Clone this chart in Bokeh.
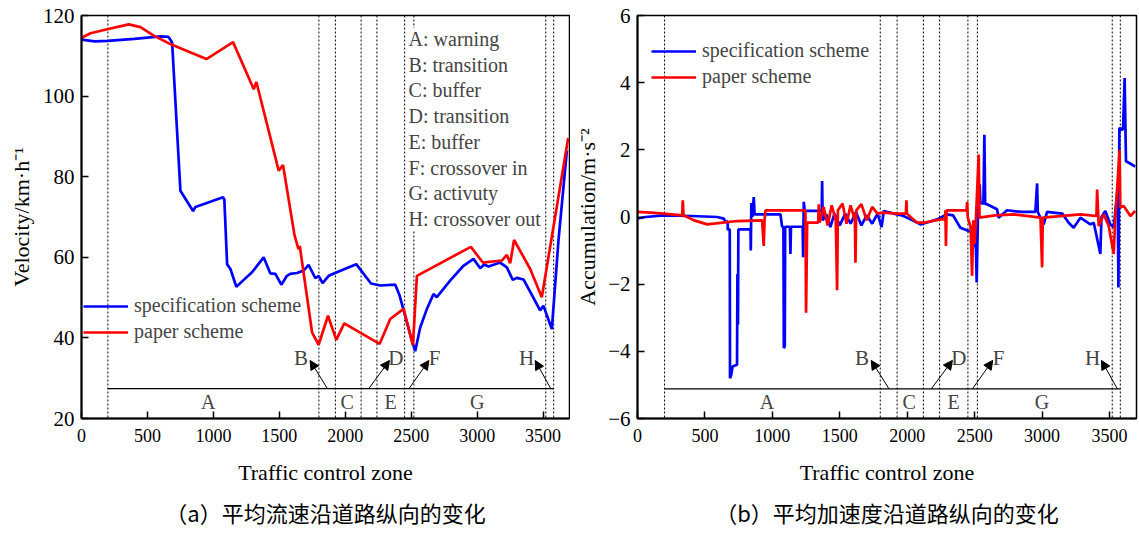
from bokeh.plotting import figure
from bokeh.models import (Span, Label, Arrow, NormalHead, Legend, LegendItem, Title,
                          Range1d, FixedTicker)
from bokeh.layouts import row
from bokeh.embed import file_html
from bokeh.resources import INLINE

SERIF = "Liberation Serif"
CJK = "Noto Sans CJK SC"
BLUE = "#0000ff"
RED = "#ff0000"

# ---------------- data ----------------
x_ticks = [0, 500, 1000, 1500, 2000, 2500, 3000, 3500]
v_ticks = [20, 40, 60, 80, 100, 120]
a_ticks = [-6, -4, -2, 0, 2, 4, 6]

zone_bounds = [200, 1800, 1925, 2120, 2240, 2450, 2520, 3520, 3580]
zone_letters = ["A", "C", "E", "G"]
zone_letter_x = [960, 2015, 2343, 3000]
arrow_letters = ["B", "D", "F", "H"]
arrow_letter_x = [1664, 2383, 2678, 3375]
arrow_tail_x = [1865, 2178, 2483, 3558]
arrow_head_x = [1733, 2335, 2634, 3440]
legend_text = "\n".join(["A: warning", "B: transition", "C: buffer", "D: transition",
                         "E: buffer", "F: crossover in", "G: activuty", "H: crossover out"])

# (a) velocity, km/h
spec_v_x = [0, 100, 200, 400, 600, 660, 687, 750, 846, 864, 1073, 1083, 1104, 1129, 1174,
            1230, 1293, 1381, 1432, 1470, 1515, 1558, 1583, 1634, 1684, 1722, 1773, 1798,
            1828, 1874, 1950, 2083, 2195, 2265, 2379, 2412, 2505, 2530, 2568, 2619, 2669,
            2694, 2795, 2896, 2972, 3023, 3053, 3086, 3174, 3225, 3270, 3301, 3351, 3439,
            3477, 3502, 3566, 3616, 3680]
spec_v_y = [114.0, 113.6, 113.7, 114.2, 114.8, 114.7, 113.3, 76.5, 71.5, 72.5, 74.9, 74.3,
            58.3, 57.1, 52.7, 54.4, 56.3, 60.0, 56.0, 55.9, 53.2, 55.4, 55.9, 56.1, 56.7,
            58.1, 54.8, 55.4, 53.6, 55.4, 56.5, 58.3, 53.5, 53.0, 53.2, 50.5, 39.3, 36.7,
            42.6, 47.2, 50.9, 50.1, 54.2, 57.9, 59.6, 57.3, 58.2, 57.7, 58.7, 57.5, 54.4,
            54.9, 54.5, 49.2, 46.8, 48.0, 42.2, 64.0, 86.5]
paper_v_x = [0, 68, 195, 358, 447, 548, 674, 750, 947, 1149, 1306, 1326, 1495, 1528, 1615,
             1645, 1655, 1748, 1798, 1869, 1932, 1992, 2260, 2341, 2442, 2513, 2543, 2952,
             3043, 3187, 3225, 3250, 3280, 3402, 3490, 3690]
paper_v_y = [114.5, 115.6, 116.6, 117.8, 117.1, 115.0, 112.9, 111.9, 109.2, 113.4, 101.7,
             103.5, 81.5, 82.9, 65.5, 62.0, 62.8, 41.4, 38.3, 45.5, 39.5, 43.6, 38.5, 44.7,
             47.2, 38.2, 55.4, 62.6, 58.7, 59.2, 60.6, 58.5, 64.3, 57.1, 50.1, 89.6]

# (b) acceleration, m/s^2
spec_a_x = [0, 60, 193, 400, 591, 640, 652, 669, 669, 684, 686, 695, 705, 738, 741, 745, 748,
            838, 840, 844, 852, 862, 868, 1060, 1072, 1082, 1085, 1092, 1095, 1130, 1134,
            1138, 1225, 1228, 1233, 1240, 1320, 1366, 1369, 1373, 1400, 1430, 1460, 1500,
            1540, 1580, 1620, 1660, 1700, 1740, 1780, 1810, 1826, 1900, 1960, 2040, 2098,
            2160, 2222, 2296, 2340, 2394, 2456, 2490, 2500, 2506, 2515, 2525, 2537, 2543,
            2565, 2572, 2578, 2592, 2666, 2678, 2740, 2850, 2950, 2963, 2968, 3012, 3037,
            3150, 3197, 3234, 3284, 3358, 3383, 3432, 3440, 3469, 3506, 3531, 3560, 3566,
            3573, 3600, 3612, 3622, 3650, 3690]
spec_a_y = [-0.04, 0.0, 0.05, 0.03, 0.0, -0.05, -0.14, -0.14, -0.37, -0.37, -4.8, -4.7,
            -4.45, -4.4, -1.7, -3.2, -0.37, -0.37, -1.0, 0.42, 0.0, 0.59, 0.08, 0.08, -0.29,
            -0.29, -3.9, -3.85, -0.29, -0.29, -1.1, -0.29, -0.29, -1.2, 0.45, 0.18, 0.18,
            0.18, 1.07, -0.1, 0.08, -0.3, 0.1, -0.25, 0.1, -0.2, 0.15, -0.25, 0.05, -0.2,
            0.1, -0.3, 0.18, 0.1, 0.05, -0.1, -0.22, -0.15, -0.07, 0.08, 0.05, -0.32, -0.42,
            -0.45, -0.9, -0.3, -1.95, 0.2, 0.97, 0.42, 0.4, 2.45, 0.38, 0.38, 0.23, -0.02,
            0.2, 0.15, 0.15, 1.0, 0.15, -0.22, 0.15, 0.1, -0.17, -0.32, -0.02, -0.22, -0.17,
            -1.1, 0.0, 0.18, -0.22, -0.3, 0.82, -2.1, 2.65, 2.6, 4.14, 1.66, 1.6, 1.5]
paper_a_x = [0, 100, 193, 331, 336, 341, 420, 517, 600, 739, 924, 936, 942, 949, 1245, 1250,
             1258, 1340, 1344, 1350, 1380, 1410, 1440, 1470, 1480, 1486, 1520, 1550, 1580,
             1612, 1616, 1622, 1660, 1700, 1740, 1780, 1826, 1925, 1990, 1994, 1998, 2073,
             2122, 2246, 2280, 2283, 2287, 2292, 2440, 2444, 2449, 2470, 2481, 2490, 2500,
             2510, 2530, 2536, 2650, 2790, 2988, 3000, 3005, 3284, 3403, 3408, 3420, 3457,
             3494, 3531, 3543, 3575, 3580, 3605, 3630, 3655, 3690]
paper_a_y = [0.15, 0.13, 0.1, 0.05, 0.5, 0.05, -0.1, -0.22, -0.18, -0.12, -0.1, -0.86, -0.1,
             0.2, 0.2, -2.85, -0.17, -0.17, 0.38, -0.17, 0.3, -0.25, 0.35, -0.1, -2.18, 0.2,
             0.4, -0.2, 0.35, -0.1, -1.36, 0.2, 0.38, -0.1, 0.3, 0.1, 0.13, 0.1, 0.1, 0.5,
             0.1, -0.17, -0.17, -0.07, -0.07, 0.2, -0.86, 0.2, 0.2, 0.45, -0.02, -0.3, -1.75,
             -0.1, -0.8, 0.0, 1.86, -0.02, 0.05, 0.08, -0.02, -1.5, -0.02, 0.08, 0.03, 0.82,
             -0.27, 0.08, -0.27, -1.1, 0.03, 2.0, 0.28, 0.33, 0.18, 0.03, 0.18]


def make_fig(y0, y1, yticks, ylabel, width, bl, br, lab_standoff, caption):
    p = figure(width=width, height=534, x_range=Range1d(0, 3700), y_range=Range1d(y0, y1),
               output_backend="svg", toolbar_location=None,
               min_border_left=bl, min_border_right=br, min_border_top=15, min_border_bottom=116)
    p.xgrid.visible = False
    p.ygrid.visible = False
    p.outline_line_color = "black"
    p.outline_line_width = 1.5
    p.outline_line_alpha = 1
    p.xaxis.ticker = FixedTicker(ticks=x_ticks)
    p.yaxis.ticker = FixedTicker(ticks=yticks)
    for ax in (p.xaxis[0], p.yaxis[0]):
        ax.major_tick_in = 7
        ax.major_tick_out = 0
        ax.minor_tick_in = 0
        ax.minor_tick_out = 0
        ax.axis_line_width = 2
        ax.major_tick_line_width = 1.5
        ax.major_label_text_font = SERIF
        ax.major_label_text_color = "black"
        ax.axis_label_text_font = SERIF
        ax.axis_label_text_font_style = "normal"
        ax.axis_label_text_color = "black"
        ax.axis_label_text_font_size = "22px"
    p.xaxis.major_label_text_font_size = "18px"
    p.yaxis.major_label_text_font_size = "21px"
    p.xaxis.major_label_standoff = 10
    p.yaxis.major_label_standoff = 7
    p.xaxis.axis_label = "Traffic control zone"
    p.xaxis.axis_label_standoff = 15
    p.yaxis.axis_label = ylabel
    p.yaxis.axis_label_standoff = lab_standoff
    p.add_layout(Title(text=caption, align="center", text_font=CJK, text_font_size="22px",
                       text_font_style="normal", text_color="black", standoff=13), "below")
    for b in zone_bounds:
        p.add_layout(Span(location=b, dimension="height", line_color="black",
                          line_width=1, line_dash="2 2", level="underlay"))
    return p


def decorate(p, hline_y, letter_y, head_y, label_y):
    p.line(x=[zone_bounds[0], zone_bounds[-1]], y=[hline_y, hline_y],
           line_color="black", line_width=1.2)
    for t, x in zip(zone_letters, zone_letter_x):
        p.add_layout(Label(x=x, y=letter_y, text=t, text_font=SERIF, text_font_size="20px",
                           text_align="center", text_baseline="middle"))
    for t, lx, tx, hx in zip(arrow_letters, arrow_letter_x, arrow_tail_x, arrow_head_x):
        p.add_layout(Arrow(end=NormalHead(size=9, fill_color="black", line_color="black"),
                           x_start=tx, y_start=hline_y, x_end=hx, y_end=head_y,
                           line_width=1, line_color="black"))
        p.add_layout(Label(x=lx, y=label_y, text=t, text_font=SERIF, text_font_size="21px",
                           text_align="center", text_baseline="middle"))


def add_series(p, bx, by, rx, ry, loc):
    rb = p.line(bx, by, line_color=BLUE, line_width=2.7)
    rr = p.line(rx, ry, line_color=RED, line_width=2.7)
    leg = Legend(items=[LegendItem(label="specification scheme", renderers=[rb]),
                        LegendItem(label="paper scheme", renderers=[rr])],
                 location=loc, border_line_color=None, background_fill_alpha=0,
                 padding=0, margin=0, spacing=3, glyph_width=45, glyph_height=20,
                 label_height=20, label_standoff=6, label_text_font=SERIF,
                 label_text_font_size="20px")
    p.add_layout(leg)


pa = make_fig(20, 120, v_ticks, "Velocity/km·h⁻¹", 570, 81, 1, 6,
              "（a）平均流速沿道路纵向的变化")
decorate(pa, 27.4, 24.0, 34.4, 34.9)
add_series(pa, spec_v_x, spec_v_y, paper_v_x, paper_v_y, (2, 75))
pa.add_layout(Label(x=2480, y=116.9, text=legend_text, text_font=SERIF,
                    text_font_size="20px", text_line_height=1.17, text_align="left",
                    text_baseline="top", background_fill_color="white"))

pb = make_fig(-6, 6, a_ticks, "Accumulation/m·s⁻²", 568, 67, 2, 5,
              "（b）平均加速度沿道路纵向的变化")
decorate(pb, -5.12, -5.52, -4.27, -4.21)
add_series(pb, spec_a_x, spec_a_y, paper_a_x, paper_a_y, (14, 330))

layout = row(pa, pb)
open("out.html", "w").write(file_html(layout, INLINE))
